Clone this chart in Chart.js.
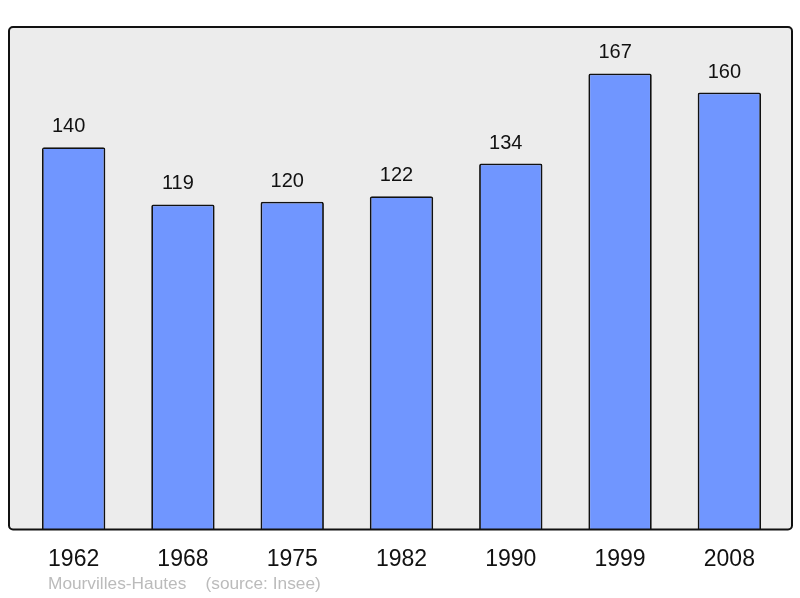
<!DOCTYPE html>
<html>
<head>
<meta charset="utf-8">
<script src="https://cdn.jsdelivr.net/npm/chart.js@4"></script>
<style>
  html, body { margin: 0; padding: 0; background: #fff; }
  canvas { display: block; }
</style>
</head>
<body>
<canvas id="popChart" width="800" height="598"></canvas>
<script>
const years = ['1962', '1968', '1975', '1982', '1990', '1999', '2008'];
const population = [140, 119, 120, 122, 134, 167, 160];
const caption = 'Mourvilles-Hautes    (source: Insee)';

// grey panel behind the bars, plus value labels and caption
const panel = {
    id: 'panel',
    beforeDatasetsDraw(chart) {
        const { ctx, chartArea: a } = chart;
        const x0 = a.left - 10, x1 = a.right + 8;
        ctx.save();
        ctx.beginPath();
        ctx.roundRect(x0, a.top, x1 - x0, a.bottom - a.top, 4);
        ctx.fillStyle = '#ececec';
        ctx.fill();
        ctx.restore();
    },
    afterDatasetsDraw(chart) {
        const { ctx, chartArea: a } = chart;
        const x0 = a.left - 10, x1 = a.right + 8;
        ctx.save();
        ctx.beginPath();
        ctx.roundRect(x0, a.top, x1 - x0, a.bottom - a.top, 4);
        ctx.lineWidth = 2;
        ctx.strokeStyle = '#111';
        ctx.stroke();

        // value labels sit a little left of the bar centre in the original
        ctx.fillStyle = '#111';
        ctx.font = '20px "Liberation Sans", Arial, sans-serif';
        ctx.textAlign = 'center';
        ctx.textBaseline = 'alphabetic';
        chart.getDatasetMeta(0).data.forEach((bar, i) => {
            ctx.fillText(String(population[i]), bar.x - 5, bar.y - 15);
        });

        ctx.fillStyle = '#bbbbbb';
        ctx.font = '17.3px "Liberation Sans", Arial, sans-serif';
        ctx.textAlign = 'left';
        ctx.textBaseline = 'middle';
        ctx.fillText(caption, 48, 584);
        ctx.restore();
    }
};

new Chart(document.getElementById('popChart').getContext('2d'), {
    type: 'bar',
    data: {
        labels: years,
        datasets: [{
            data: population,
            backgroundColor: '#7096ff',
            borderColor: '#111',
            borderWidth: 1.8,
            borderRadius: 2,
            borderSkipped: 'bottom',
            barPercentage: 0.58,
            categoryPercentage: 1
        }]
    },
    options: {
        responsive: false,
        animation: false,
        devicePixelRatio: 1,
        layout: { padding: { left: 19, right: 16, top: 27, bottom: 9 } },
        plugins: { legend: { display: false }, tooltip: { enabled: false } },
        scales: {
            x: {
                grid: { display: false, drawTicks: false },
                border: { display: false },
                ticks: {
                    color: '#111',
                    padding: 16,
                    autoSkip: false,
                    maxRotation: 0,
                    font: { size: 23, family: '"Liberation Sans", Arial, sans-serif' }
                }
            },
            y: {
                display: false,
                min: 0,
                max: 184
            }
        }
    },
    plugins: [panel]
});
</script>
</body>
</html>
